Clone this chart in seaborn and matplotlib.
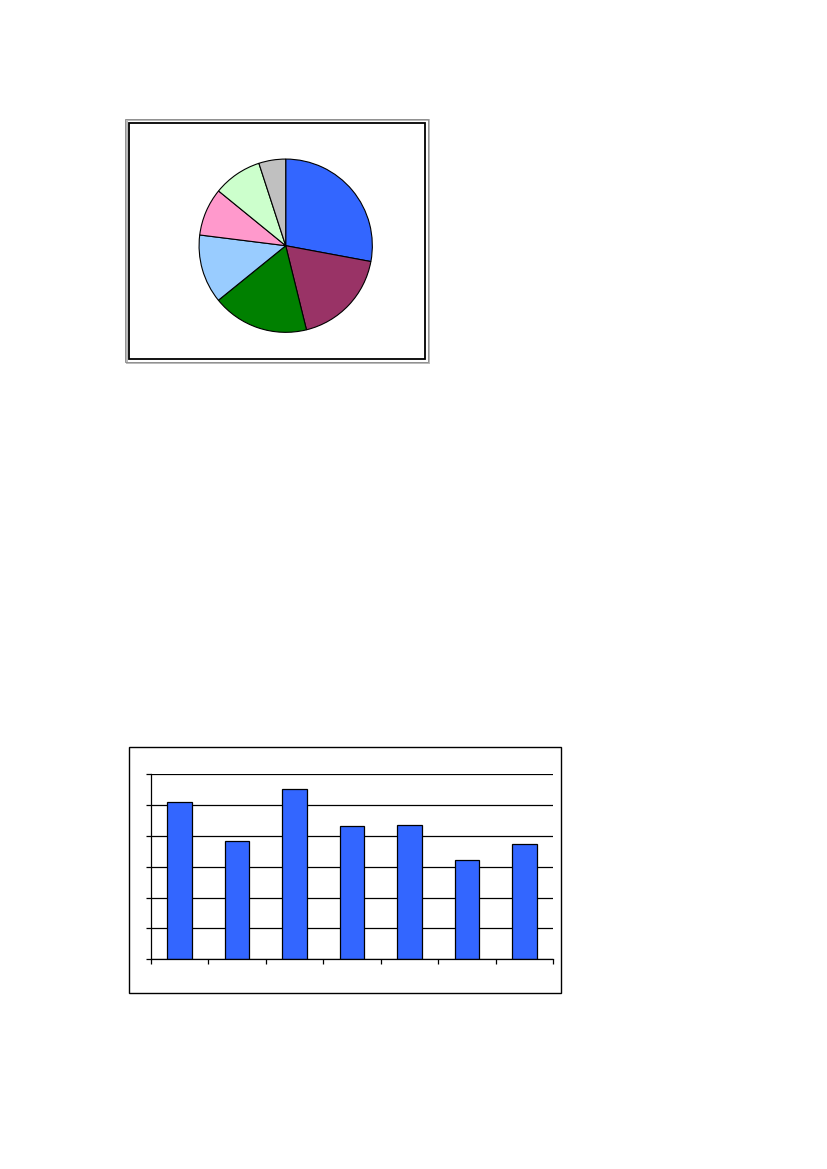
import matplotlib
matplotlib.use("Agg")
import matplotlib.pyplot as plt
import matplotlib.patches as patches
import numpy as np
import pandas as pd
import seaborn as sns

# pie shares (percent), clockwise from 12 o'clock
pie_shares = [27.9, 18.2, 18.0, 12.8, 8.9, 9.1, 5.0]
pie_colors = ["#3366FF", "#993366", "#008000", "#99CCFF", "#FF99CC", "#CCFFCC", "#C0C0C0"]

# bar chart values (in gridline units)
bar_cats = ["1", "2", "3", "4", "5", "6", "7"]
bar_vals = [5.08, 3.82, 5.50, 4.31, 4.34, 3.20, 3.72]

sns.set_style("white")
W, H = 827, 1169
fig = plt.figure(figsize=(W / 100, H / 100), dpi=100)
fig.patch.set_facecolor("white")


def px_rect(x0, y0, x1, y1, **kw):
    # rectangle given in page pixels (top-left origin)
    r = patches.Rectangle((x0 / W, 1 - y1 / H), (x1 - x0) / W, (y1 - y0) / H,
                          transform=fig.transFigure, fill=False, **kw)
    fig.add_artist(r)


# pie chart frame
px_rect(126.5, 120.5, 429, 363, edgecolor="#b8b8b8", linewidth=1.4)
px_rect(125, 119, 428, 362, edgecolor="#909090", linewidth=0.7)
px_rect(129, 123, 425, 359, edgecolor="black", linewidth=1.3)

# pie
cx, cy, r = 285.7, 245.7, 87.5
ax_pie = fig.add_axes([(cx - r) / W, 1 - (cy + r) / H, 2 * r / W, 2 * r / H])
ax_pie.pie(pie_shares, colors=pie_colors, startangle=90, counterclock=False,
           radius=1.0, wedgeprops=dict(edgecolor="black", linewidth=0.8))
ax_pie.set_xlim(-1.01, 1.01)
ax_pie.set_ylim(-1.01, 1.01)
ax_pie.set_aspect("equal")
ax_pie.axis("off")

# bar chart frame
px_rect(129, 747, 561, 993, edgecolor="black", linewidth=1.0)

# bar chart
left, right, top, bottom = 150.7, 553.3, 774, 959.3
ax_bar = fig.add_axes([left / W, 1 - bottom / H, (right - left) / W, (bottom - top) / H])
df = pd.DataFrame({"cat": bar_cats, "val": bar_vals})
sns.barplot(data=df, x="cat", y="val", color="#3366FF", saturation=1,
            edgecolor="black", linewidth=0.9, width=0.42, ax=ax_bar)
ax_bar.set_xlim(-0.5, len(bar_cats) - 0.5)
ax_bar.set_ylim(0, 6)
ax_bar.set_yticks(np.arange(0, 7, 1))
ax_bar.set_yticklabels([])
ax_bar.set_xticks(np.arange(-0.5, len(bar_cats), 1))
ax_bar.set_xticklabels([])
ax_bar.set_xlabel("")
ax_bar.set_ylabel("")
ax_bar.tick_params(axis="both", direction="out", length=3.5, width=0.9,
                   color="black", left=True, bottom=True)
ax_bar.yaxis.grid(True, color="black", linewidth=0.9)
ax_bar.set_axisbelow(True)
for side in ["top", "right"]:
    ax_bar.spines[side].set_visible(False)
for side in ["left", "bottom"]:
    ax_bar.spines[side].set_color("black")
    ax_bar.spines[side].set_linewidth(0.9)
ax_bar.set_facecolor("white")

fig.savefig("out.png", dpi=100, facecolor="white")
